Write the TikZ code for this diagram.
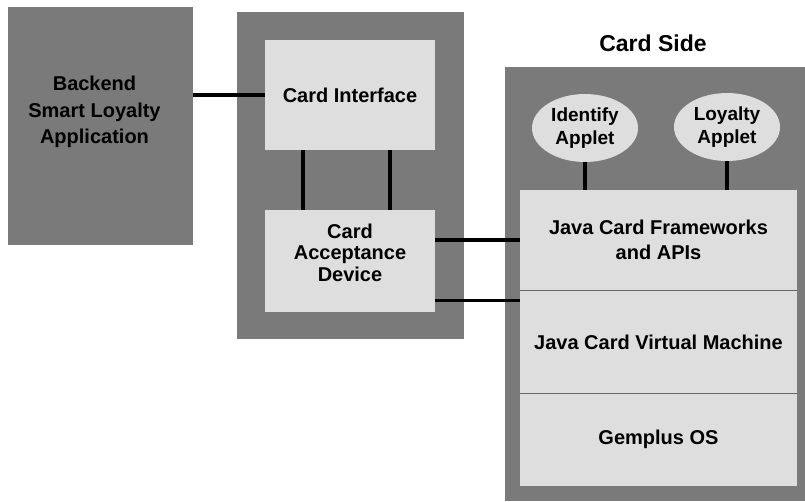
\documentclass[tikz,border=0pt]{standalone}
\usepackage{fontspec}
\setmainfont{Liberation Sans}
\usetikzlibrary{shapes,positioning,calc}

\definecolor{darkpanel}{RGB}{122,122,122}
\definecolor{lightpanel}{RGB}{222,222,222}

\begin{document}
\begin{tikzpicture}[
    x=1pt, y=-1pt,
    node distance=0pt,
    panel/.style={rectangle, fill=darkpanel, inner sep=0pt},
    box/.style={rectangle, fill=lightpanel, inner sep=0pt, align=center, font=\bfseries\fontsize{20}{25}\selectfont},
    lbl/.style={align=center, font=\bfseries\fontsize{20}{25}\selectfont},
    applet/.style={ellipse, fill=lightpanel, inner sep=0pt, minimum width=106pt, minimum height=68pt, align=center, font=\bfseries\fontsize{19}{23}\selectfont},
    link/.style={line width=3.5pt},
    sep/.style={line width=1.2pt, draw=black!60}
]
\useasboundingbox[fill=white] (0,0) rectangle (805,501);

\node[panel, minimum width=185pt, minimum height=238pt,
    label={[lbl, font=\bfseries\fontsize{20}{26.5}\selectfont, yshift=14pt, xshift=-6pt]center:Backend\\Smart Loyalty\\Application}] (backend) at (100.5,126) {};

\node[panel, minimum width=227pt, minimum height=327pt] (reader) at (350.5,175.5) {};
\node[box, minimum width=170pt, minimum height=110pt] (cardif) at (350,95) {Card Interface};
\node[box, minimum width=170pt, minimum height=102pt, below=60pt of cardif,
    label={[lbl, font=\bfseries\fontsize{20}{21.5}\selectfont, yshift=9pt]center:Card\\Acceptance\\Device}] (cad) {};

\node[font=\bfseries\fontsize{23}{28}\selectfont] (cardside) at (653,43) {Card Side};
\node[panel, minimum width=300pt, minimum height=434pt] (chip) at (655,284) {};

\node[box, minimum width=277pt, minimum height=100pt] (fw) at (658.5,240) {Java Card Frameworks\\and APIs};
\node[box, minimum width=277pt, minimum height=103pt, below=of fw] (jcvm) {Java Card Virtual Machine};
\node[box, minimum width=277pt, minimum height=92pt, below=of jcvm] (os) {Gemplus OS};
\draw[sep] (fw.south west) -- (fw.south east);
\draw[sep] (jcvm.south west) -- (jcvm.south east);

\node[applet] (identify) at (585,128) {Identify\\Applet};
\node[applet] (loyalty) at (727,127) {Loyalty\\Applet};

\draw[link] (backend.east |- cardif.west) -- (cardif.west);
\draw[link] ([xshift=-47pt]cardif.south) -- ([xshift=-47pt]cad.north);
\draw[link] ([xshift=40pt]cardif.south) -- ([xshift=40pt]cad.north);
\draw[link] (cad.east |- fw.west) -- (fw.west);
\draw[link] ([yshift=12pt]cad.south east) -- ([yshift=12pt]cad.south east -| jcvm.west);
\draw[link] (identify.south) -- (identify.south |- fw.north);
\draw[link] (loyalty.south) -- (loyalty.south |- fw.north);
\end{tikzpicture}
\end{document}
